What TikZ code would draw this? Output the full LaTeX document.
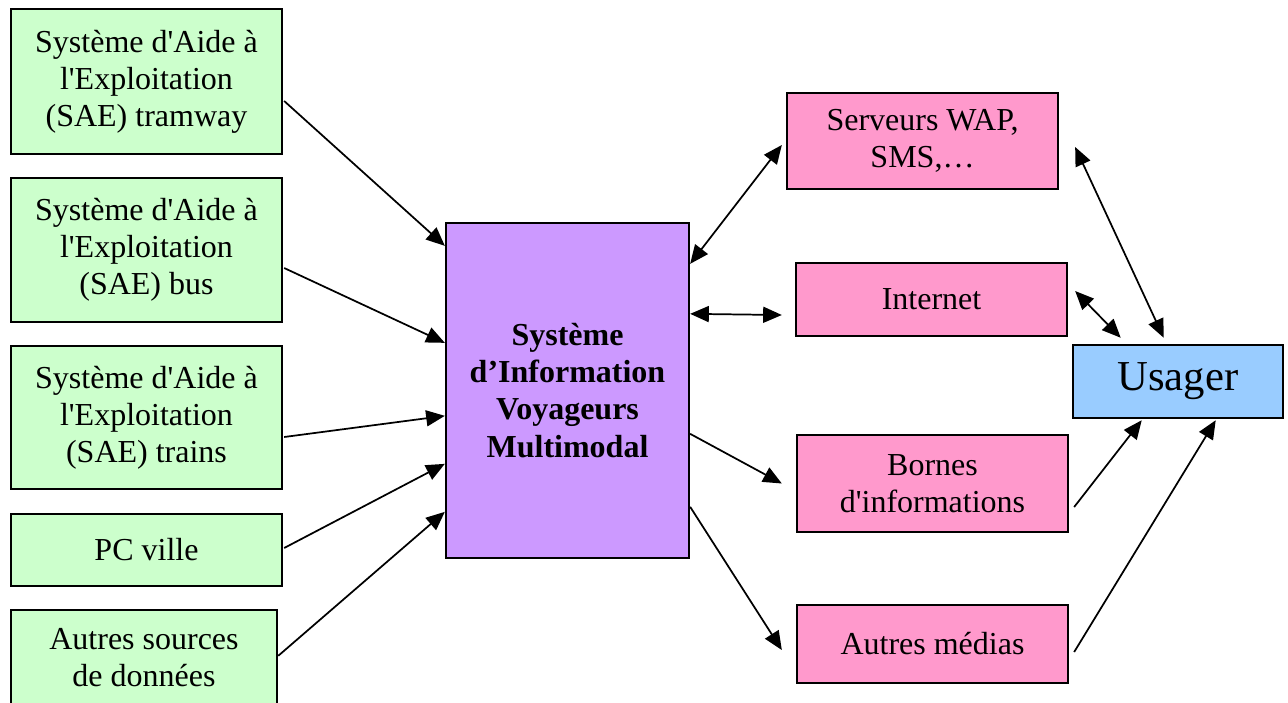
\documentclass[tikz,border=0pt]{standalone}
\usepackage{fontspec}
\setmainfont{Liberation Serif}
\usetikzlibrary{arrows.meta}

\begin{document}
\begin{tikzpicture}[x=0.375pt,y=-0.375pt,
    box/.style={draw,line width=0.9pt,align=center,inner sep=2pt,
        font=\fontsize{12pt}{13.9pt}\selectfont},
    source/.style={box,fill={rgb,255:red,204;green,255;blue,204}},
    media/.style={box,fill={rgb,255:red,255;green,153;blue,204}},
    flow/.style={line width=0.65pt,-{Triangle[length=7pt,width=6pt]}},
    both/.style={line width=0.65pt,{Triangle[length=7pt,width=6pt]}-{Triangle[length=7pt,width=6pt]}}]
    \useasboundingbox (0,0) rectangle (1288,702);
    % sources
    \node[source,minimum width=101.6pt,minimum height=54.4pt]
        (tram) at (146.5,81.5) {Système d\textquotesingle Aide à\\l\textquotesingle Exploitation\\(SAE) tramway};
    \node[source,minimum width=101.6pt,minimum height=54pt]
        (bus) at (146.5,250) {Système d\textquotesingle Aide à\\l\textquotesingle Exploitation\\(SAE) bus};
    \node[source,minimum width=101.6pt,minimum height=53.6pt]
        (train) at (146.5,417.5) {Système d\textquotesingle Aide à\\l\textquotesingle Exploitation\\(SAE) trains};
    \node[source,minimum width=101.6pt,minimum height=27pt]
        (pc) at (146.5,550) {PC ville};
    \node[source,minimum width=99.8pt,minimum height=36pt]
        (autres) at (144,658) {Autres sources\\de données};
    % centre
    \node[box,fill={rgb,255:red,204;green,153;blue,255},minimum width=91.1pt,minimum height=125.6pt,
        font=\fontsize{12pt}{13.9pt}\selectfont\bfseries]
        (siv) at (567.5,390.5) {Système\\d’Information\\Voyageurs\\Multimodal};
    % medias
    \node[media,minimum width=101.6pt,minimum height=36pt] (wap) at (922.5,141) {Serveurs WAP,\\SMS,\dots};
    \node[media,minimum width=101.6pt,minimum height=27.4pt] (web) at (931.5,299.5) {Internet};
    \node[media,minimum width=101.6pt,minimum height=36.4pt] (borne) at (932.5,483.5) {Bornes\\d\textquotesingle informations};
    \node[media,minimum width=101.6pt,minimum height=29.2pt] (tv) at (932.5,644) {Autres médias};
    % usager
    \node[box,fill={rgb,255:red,153;green,204;blue,255},minimum width=78.8pt,minimum height=27.4pt,
        font=\fontsize{16pt}{18pt}\selectfont] (user) at (1178,381.5) {Usager};
    % connectors
    \draw[flow] ([shift={(1,19.5)}]tram.east) -- ([shift={(0,24)}]siv.north west);
    \draw[flow] ([shift={(1,18)}]bus.east) -- ([shift={(0,121)}]siv.north west);
    \draw[flow] ([shift={(1,19.5)}]train.east) -- ([shift={(0,194)}]siv.north west);
    \draw[flow] ([shift={(1,-2)}]pc.east) -- ([shift={(0,242)}]siv.north west);
    \draw[flow] ([shift={(0,47)}]autres.north east) -- ([shift={(0,290)}]siv.north west);
    \draw[both] ([shift={(0,42)}]siv.north east) -- ([shift={(-4,4)}]wap.west);
    \draw[both] ([shift={(0,92)}]siv.north east) -- ([shift={(-13,15.5)}]web.west);
    \draw[flow] ([shift={(0,212)}]siv.north east) -- ([shift={(-14,0)}]borne.west);
    \draw[flow] ([shift={(0,285)}]siv.north east) -- ([shift={(-14,6)}]tv.west);
    \draw[both] ([shift={(16,6)}]wap.east) -- ([shift={(92,-6)}]user.north west);
    \draw[both] ([shift={(7,-8.5)}]web.east) -- ([shift={(49,-6)}]user.north west);
    \draw[flow] ([shift={(5,23.5)}]borne.east) -- ([shift={(70,1)}]user.south west);
    \draw[flow] ([shift={(5,8)}]tv.east) -- ([shift={(144,1)}]user.south west);
\end{tikzpicture}
\end{document}
